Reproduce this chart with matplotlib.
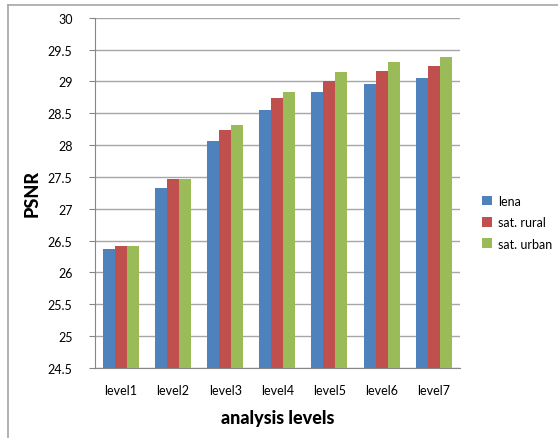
import numpy as np
import matplotlib.pyplot as plt
from matplotlib.lines import Line2D

levels = ["level1", "level2", "level3", "level4", "level5", "level6", "level7"]
lena = [26.36, 27.32, 28.06, 28.55, 28.83, 28.96, 29.05]
sat_rural = [26.42, 27.46, 28.23, 28.74, 29.00, 29.16, 29.25]
sat_urban = [26.42, 27.47, 28.31, 28.83, 29.15, 29.30, 29.39]

series = [("lena", lena, "#4F81BD"),
          ("sat. rural", sat_rural, "#C0504D"),
          ("sat. urban", sat_urban, "#9BBB59")]

plt.rcParams["font.family"] = ["Lato", "DejaVu Sans"]

fig = plt.figure(figsize=(5.58, 4.39), dpi=100)
ax = fig.add_axes([0.170, 0.160, 0.654, 0.797])

# outer chart border (only top and left visible in the crop)
fig.add_artist(Line2D([8 / 558, 8 / 558], [0, 1 - 6 / 439], color="#a6a6a6", lw=1.2))
fig.add_artist(Line2D([8 / 558, 1], [1 - 6 / 439, 1 - 6 / 439], color="#a6a6a6", lw=1.2))

x = np.arange(len(levels))
w = 0.23
for i, (name, vals, col) in enumerate(series):
    ax.bar(x + (i - 1) * w, np.array(vals) - 24.5, w, bottom=24.5, color=col,
           label=name, zorder=3)

ax.set_ylim(24.5, 30)
ax.set_xlim(-0.5, len(levels) - 0.5)
ax.set_yticks(np.arange(24.5, 30.01, 0.5))
ax.set_yticklabels(["{:g}".format(v) for v in np.arange(24.5, 30.01, 0.5)])
ax.set_xticks(x)
ax.set_xticklabels(levels)
ax.yaxis.grid(True, color="#a6a6a6", lw=1.0, zorder=0)
ax.set_axisbelow(True)

for s in ["top", "right"]:
    ax.spines[s].set_visible(False)
for s in ["left", "bottom"]:
    ax.spines[s].set_color("#868686")
ax.tick_params(axis="y", length=4, color="#868686", labelsize=9, pad=12)
ax.tick_params(axis="x", length=0, labelsize=9, pad=12)

ax.set_ylabel("PSNR", fontsize=13, fontweight="black", labelpad=5)
ax.set_xlabel("analysis levels", fontsize=13, fontweight="black", labelpad=9)

ax.legend(loc="center left", bbox_to_anchor=(1.03, 0.416), frameon=False,
          fontsize=9, handlelength=0.8, handleheight=0.8, labelspacing=0.75,
          handletextpad=0.5)

fig.savefig("out.png", dpi=100)
